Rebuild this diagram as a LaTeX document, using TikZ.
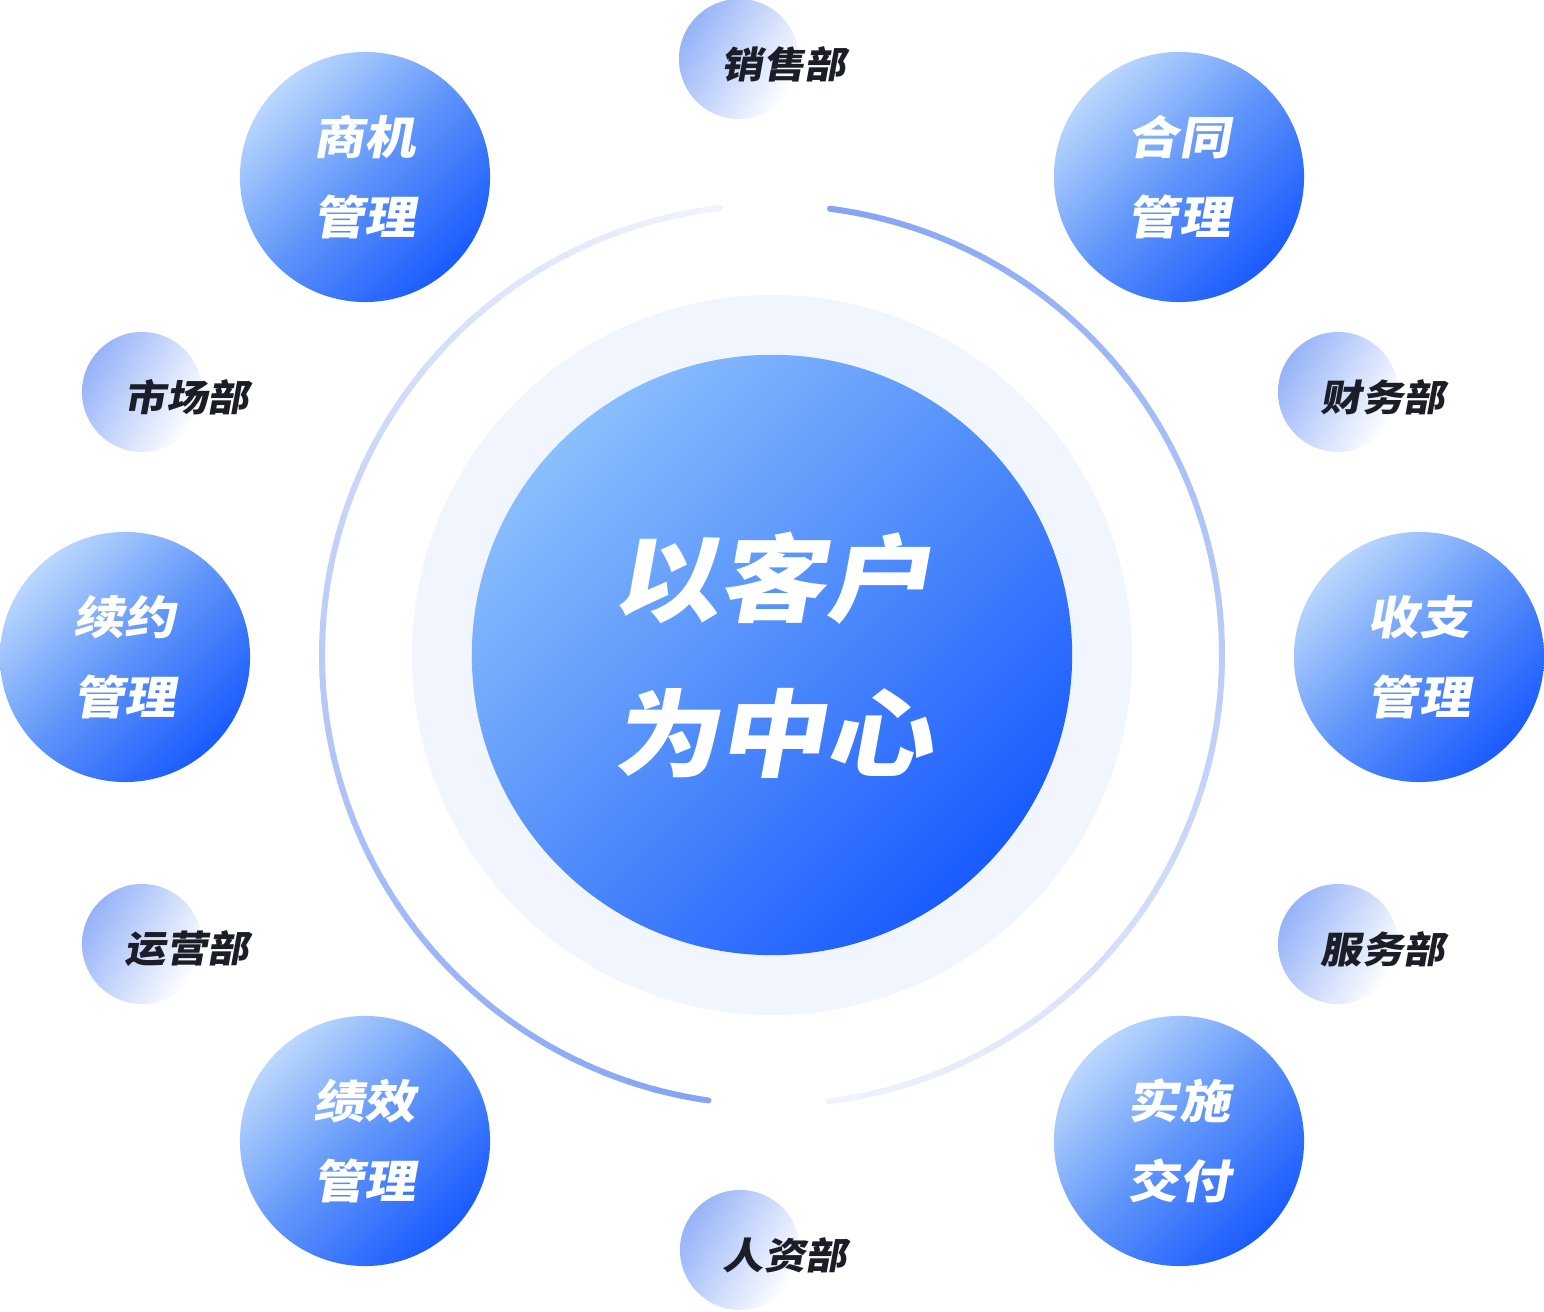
\documentclass[tikz,border=0pt]{standalone}
\usepackage{fontspec}
\usepackage{tikz}
\newfontfamily\cjkheavy[FakeSlant=0.18, FakeStretch=1.12]{Noto Sans CJK SC Black}

\definecolor{deepblue}{HTML}{1A5BFF}
\definecolor{hubtop}{HTML}{8ABEFD}
\definecolor{hubmid}{HTML}{508DFB}
\definecolor{modtop}{HTML}{BAD7FD}
\definecolor{modmid}{HTML}{5E94FA}
\definecolor{ringbg}{HTML}{F0F5FE}
\definecolor{arcblue}{HTML}{84A4F5}
\definecolor{arcpale}{HTML}{F1F4FB}
\definecolor{deptblue}{HTML}{96B3F8}
\definecolor{inkdark}{HTML}{1B1E26}

\begin{document}
\begin{tikzpicture}
    [x=0.01cm, y=0.01cm,
     every node/.style={inner sep=0pt},
     hub/.style={circle, minimum size=6cm, top color=hubtop, bottom color=deepblue,
       middle color=hubmid, shading angle=45, text=white, align=center,
       font=\cjkheavy\fontsize{27}{44}\selectfont},
     module/.style={circle, minimum size=2.5cm, top color=modtop, bottom color=deepblue,
       middle color=modmid, shading angle=45, text=white, align=center,
       font=\cjkheavy\fontsize{13}{22.8}\selectfont},
     dept/.style={circle, minimum size=1.2cm, top color=deptblue, bottom color=white,
       shading angle=60},
     deptname/.style={text=inkdark, xshift=0.45cm, yshift=-0.05cm,
       font=\cjkheavy\fontsize{10.5}{12}\selectfont},
     arcline/.style={line width=0.06cm, line cap=round}]
    \useasboundingbox (0,0) rectangle (1544,1312);

    % centre
    \coordinate (ctr) at (772,657);
    \fill[ringbg] (ctr) circle (360);
    \node[hub] (hub) at (ctr) {以客户\\为中心};

    % right arc, fading downwards
    \foreach \i in {0,...,47} {
      \pgfmathsetmacro\from{82.6-3.44*\i}
      \pgfmathsetmacro\to{\from-3.6}
      \pgfmathsetmacro\tint{100-2.1*\i}
      \draw[arcline, draw=arcblue!\tint!arcpale] (ctr) ++(\from:450)
        arc[start angle=\from, end angle=\to, radius=450];
    }
    % left arc, fading upwards
    \foreach \i in {0,...,47} {
      \pgfmathsetmacro\from{96.6+3.44*\i}
      \pgfmathsetmacro\to{\from+3.6}
      \pgfmathsetmacro\tint{1.3+2.1*\i}
      \draw[arcline, draw=arcblue!\tint!arcpale] (ctr) ++(\from:450)
        arc[start angle=\from, end angle=\to, radius=450];
    }

    % modules
    \node[module] (opportunity) at (365,1135) {商机\\管理};
    \node[module] (contract)    at (1179,1135) {合同\\管理};
    \node[module] (renewal)     at (125,655) {续约\\管理};
    \node[module] (cashflow)    at (1419,655) {收支\\管理};
    \node[module] (performance) at (365,171) {绩效\\管理};
    \node[module] (delivery)    at (1179,171) {实施\\交付};

    % departments
    \node[dept] (sales)   at (739,1253) {};
    \node[dept] (market)  at (142,920) {};
    \node[dept] (finance) at (1338,920) {};
    \node[dept] (ops)     at (142,368) {};
    \node[dept] (service) at (1338,368) {};
    \node[dept] (hr)      at (740,62) {};
    \node[deptname] (sales-name)   at (sales) {销售部};
    \node[deptname] (market-name)  at (market) {市场部};
    \node[deptname] (finance-name) at (finance) {财务部};
    \node[deptname] (ops-name)     at (ops) {运营部};
    \node[deptname] (service-name) at (service) {服务部};
    \node[deptname] (hr-name)      at (hr) {人资部};
\end{tikzpicture}
\end{document}
